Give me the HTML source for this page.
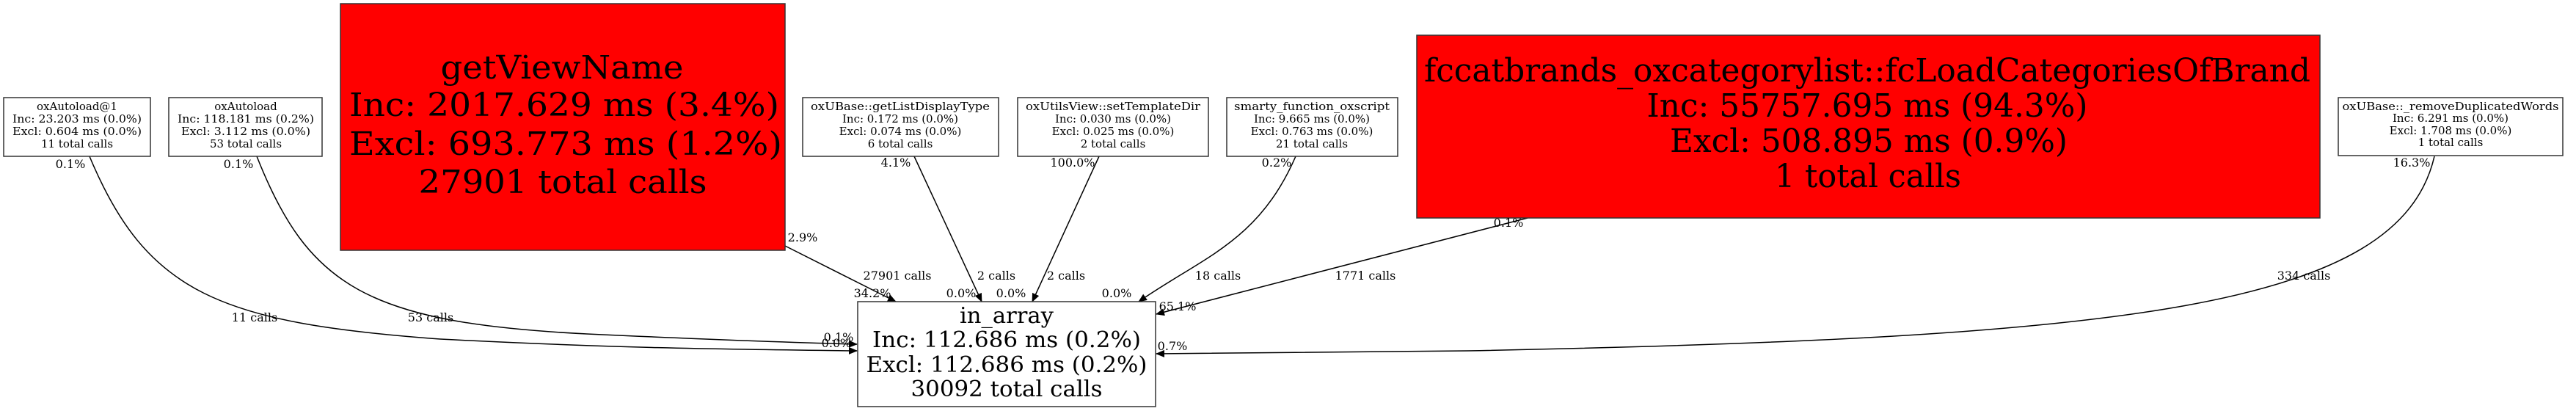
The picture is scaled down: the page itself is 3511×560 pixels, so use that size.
<!DOCTYPE html>
<html><head><meta charset="utf-8"><style>html,body{margin:0;padding:0;background:#fff}svg{display:block}</style></head>
<body>
<svg xmlns="http://www.w3.org/2000/svg" width="3511" height="560" viewBox="0 0 3511 560" font-family="'DejaVu Serif','Liberation Serif',serif">
<defs><marker id="a" markerWidth="12" markerHeight="10" refX="11" refY="5" orient="auto" markerUnits="userSpaceOnUse"><path d="M0,0 L12,5 L0,10 z" fill="#000"/></marker></defs>
<rect width="3511" height="560" fill="#fff"/>
<g fill="none" stroke="#000" stroke-width="1.5" marker-end="url(#a)">
<path d="M122,213 C200,400 300,440 600,462 C850,475 1000,476 1168,478"/>
<path d="M350,213 C420,390 500,440 800,455 C950,462 1050,466 1168,469"/>
<path d="M1070,335 L1221,411"/>
<path d="M1246,213 L1338,411"/>
<path d="M1498,213 L1407,411"/>
<path d="M1766,213 C1715,330 1640,350 1552,411"/>
<path d="M2082,297 L1576,428"/>
<path d="M3318,213 C3270,420 2900,460 2000,478 L1576,482"/>
</g>
<g stroke="#333" stroke-width="1.5">
<rect x="5" y="133" width="200" height="80" fill="#fff"/>
<rect x="230" y="133" width="209" height="80" fill="#fff"/>
<rect x="464" y="5" width="606" height="336" fill="#f00"/>
<rect x="1094" y="133" width="267" height="80" fill="#fff"/>
<rect x="1387" y="133" width="260" height="80" fill="#fff"/>
<rect x="1672" y="133" width="233" height="80" fill="#fff"/>
<rect x="1931" y="48" width="1231" height="249" fill="#f00"/>
<rect x="3187" y="133" width="306" height="79" fill="#fff"/>
<rect x="1169" y="411" width="406" height="143" fill="#fff"/>
</g>
<g text-anchor="middle" font-size="15">
<text x="105" y="150">oxAutoload@1</text><text x="105" y="167" textLength="176" lengthAdjust="spacingAndGlyphs">Inc: 23.203 ms (0.0%)</text><text x="105" y="184" textLength="176" lengthAdjust="spacingAndGlyphs">Excl: 0.604 ms (0.0%)</text><text x="105" y="201">11 total calls</text>
<text x="335" y="150">oxAutoload</text><text x="335" y="167" textLength="186" lengthAdjust="spacingAndGlyphs">Inc: 118.181 ms (0.2%)</text><text x="335" y="184" textLength="176" lengthAdjust="spacingAndGlyphs">Excl: 3.112 ms (0.0%)</text><text x="335" y="201">53 total calls</text>
<text x="1227" y="150" textLength="244" lengthAdjust="spacingAndGlyphs">oxUBase::getListDisplayType</text><text x="1227" y="167">Inc: 0.172 ms (0.0%)</text><text x="1227" y="184">Excl: 0.074 ms (0.0%)</text><text x="1227" y="201">6 total calls</text>
<text x="1517" y="150" textLength="238" lengthAdjust="spacingAndGlyphs">oxUtilsView::setTemplateDir</text><text x="1517" y="167">Inc: 0.030 ms (0.0%)</text><text x="1517" y="184">Excl: 0.025 ms (0.0%)</text><text x="1517" y="201">2 total calls</text>
<text x="1788" y="150" textLength="212" lengthAdjust="spacingAndGlyphs">smarty_function_oxscript</text><text x="1788" y="167">Inc: 9.665 ms (0.0%)</text><text x="1788" y="184">Excl: 0.763 ms (0.0%)</text><text x="1788" y="201">21 total calls</text>
<text x="3340" y="150" textLength="295" lengthAdjust="spacingAndGlyphs">oxUBase::_removeDuplicatedWords</text><text x="3340" y="166">Inc: 6.291 ms (0.0%)</text><text x="3340" y="183">Excl: 1.708 ms (0.0%)</text><text x="3340" y="199">1 total calls</text>
</g>
<g text-anchor="middle" font-size="44">
<text x="766" y="107" textLength="331" lengthAdjust="spacingAndGlyphs">getViewName</text>
<text x="769" y="158" textLength="586" lengthAdjust="spacingAndGlyphs">Inc: 2017.629 ms (3.4%)</text>
<text x="771" y="211" textLength="590" lengthAdjust="spacingAndGlyphs">Excl: 693.773 ms (1.2%)</text>
<text x="767" y="263" textLength="393" lengthAdjust="spacingAndGlyphs">27901 total calls</text>
<text x="2545" y="111" textLength="1208" lengthAdjust="spacingAndGlyphs">fccatbrands_oxcategorylist::fcLoadCategoriesOfBrand</text>
<text x="2545" y="159" textLength="601" lengthAdjust="spacingAndGlyphs">Inc: 55757.695 ms (94.3%)</text>
<text x="2547" y="207" textLength="542" lengthAdjust="spacingAndGlyphs">Excl: 508.895 ms (0.9%)</text>
<text x="2546" y="255" textLength="254" lengthAdjust="spacingAndGlyphs">1 total calls</text>
</g>
<g text-anchor="middle" font-size="30">
<text x="1372" y="440" textLength="128" lengthAdjust="spacingAndGlyphs">in_array</text>
<text x="1372" y="473" textLength="366" lengthAdjust="spacingAndGlyphs">Inc: 112.686 ms (0.2%)</text>
<text x="1372" y="507" textLength="383" lengthAdjust="spacingAndGlyphs">Excl: 112.686 ms (0.2%)</text>
<text x="1372" y="540" textLength="261" lengthAdjust="spacingAndGlyphs">30092 total calls</text>
</g>
<g text-anchor="middle" font-size="16">
<text x="96" y="229">0.1%</text><text x="325" y="229">0.1%</text>
<text x="1221" y="227">4.1%</text><text x="1462" y="227">100.0%</text><text x="1740" y="227">0.2%</text><text x="3287" y="227">16.3%</text>
<text x="1094" y="329">2.9%</text><text x="2056" y="309">0.1%</text>
<text x="347" y="438">11 calls</text><text x="587" y="438">53 calls</text>
<text x="1223" y="381">27901 calls</text><text x="1358" y="381">2 calls</text><text x="1453" y="381">2 calls</text><text x="1660" y="381">18 calls</text><text x="1861" y="381">1771 calls</text><text x="3140" y="381">334 calls</text>
<text x="1189" y="405">34.2%</text><text x="1310" y="405">0.0%</text><text x="1378" y="405">0.0%</text><text x="1522" y="405">0.0%</text>
<text x="1605" y="423">65.1%</text><text x="1598" y="477">0.7%</text>
<text x="1143" y="465">0.1%</text><text x="1140" y="473">0.0%</text>
</g>
</svg>
</body></html>
